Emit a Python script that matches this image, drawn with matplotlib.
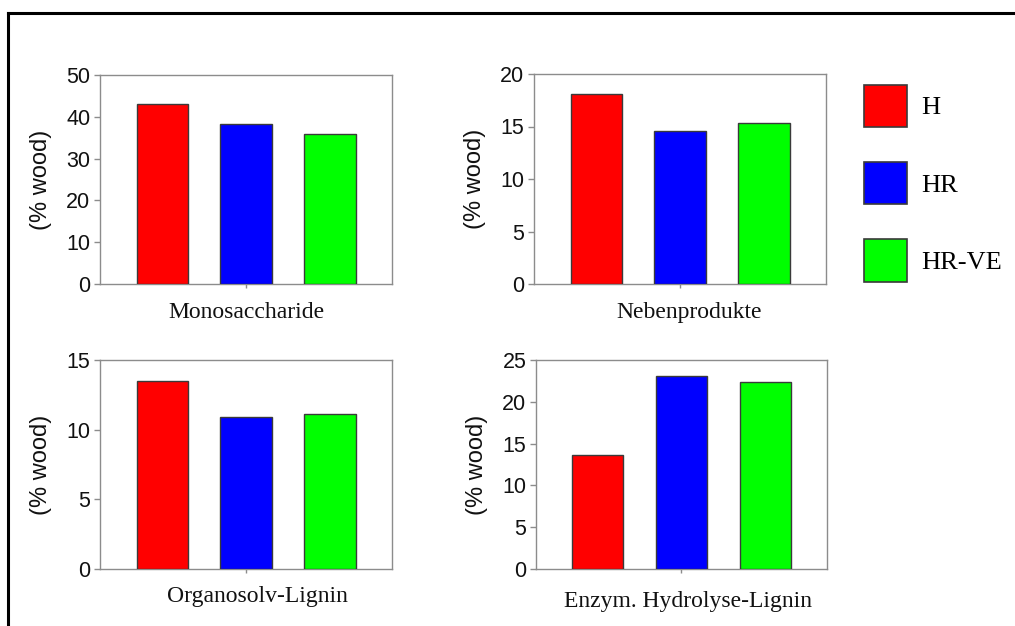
import matplotlib
matplotlib.use("Agg")
import matplotlib.pyplot as plt
from matplotlib.patches import Patch
from matplotlib.lines import Line2D

# data
categories = ["Monosaccharide", "Nebenprodukte", "Organosolv-Lignin", "Enzym. Hydrolyse-Lignin"]
series_names = ["H", "HR", "HR-VE"]
h_vals = [43.0, 18.05, 13.5, 13.65]
hr_vals = [38.2, 14.55, 10.9, 23.1]
hrve_vals = [36.0, 15.3, 11.1, 22.4]
y_max = [50, 20, 15, 25]
y_step = [10, 5, 5, 5]
y_label = "(% wood)"

colors = ["#ff0000", "#0000ff", "#00ff00"]
W, H = 1015, 626

fig = plt.figure(figsize=(W / 100, H / 100), dpi=100)

# axes boxes in pixels: left, top, right, bottom
boxes = [(100, 75, 392, 284), (534, 74, 826, 284),
         (100, 360, 392, 569), (536, 360, 827, 569)]
label_dx = [0, 9, 11, 7]          # pixel shift of category label
label_base = [318, 318, 602, 607]  # baseline y of category label

SANS = "Liberation Sans"
SERIF = "Liberation Serif"

for i, cat in enumerate(categories):
    l, t, r, b = boxes[i]
    ax = fig.add_axes([l / W, 1 - b / H, (r - l) / W, (b - t) / H])
    vals = [h_vals[i], hr_vals[i], hrve_vals[i]]
    ax.bar(range(3), vals, width=0.61, color=colors,
           edgecolor="#3a3a3a", linewidth=1.0, zorder=3)
    ax.set_xlim(-0.74, 2.74)
    ax.set_ylim(0, y_max[i])
    ax.set_yticks(range(0, y_max[i] + 1, y_step[i]))
    ax.set_xticks([1])
    ax.set_xticklabels([""])
    for s in ax.spines.values():
        s.set_color("#8c8c8c")
        s.set_linewidth(1.0)
    ax.tick_params(axis="y", direction="out", length=4, width=1,
                   color="#8c8c8c", pad=3, labelsize=15.5)
    ax.tick_params(axis="x", direction="out", length=3, width=1, color="#8c8c8c")
    for lab in ax.get_yticklabels():
        lab.set_family(SANS)
        lab.set_color("#111111")
    ax.set_ylabel(y_label, fontsize=17, family=SANS, color="#111111")
    ax.yaxis.set_label_coords(-0.165, 0.5)
    # category name under the axis
    cx = (l + r) / 2 + label_dx[i]
    fig.text(cx / W, 1 - label_base[i] / H, cat, ha="center", va="baseline",
             fontsize=17, family=SERIF, color="#111111")

handles = [Patch(facecolor=c, edgecolor="#3a3a3a", linewidth=1.2) for c in colors]
fig.legend(handles, series_names, loc="upper left",
           bbox_to_anchor=(864 / W, 1 - 85 / H), frameon=False,
           prop={"family": SERIF, "size": 19},
           handlelength=1.62, handleheight=2.08, labelspacing=1.33,
           handletextpad=0.55, borderpad=0, borderaxespad=0)

# black frame round the figure, cut off at right and bottom
fig.add_artist(Line2D([8 / W, 1.0], [1 - 13 / H, 1 - 13 / H], color="black", lw=2.2))
fig.add_artist(Line2D([8 / W, 8 / W], [1 - 13 / H, 0.0], color="black", lw=2.2))

fig.savefig("out.png", dpi=100)
